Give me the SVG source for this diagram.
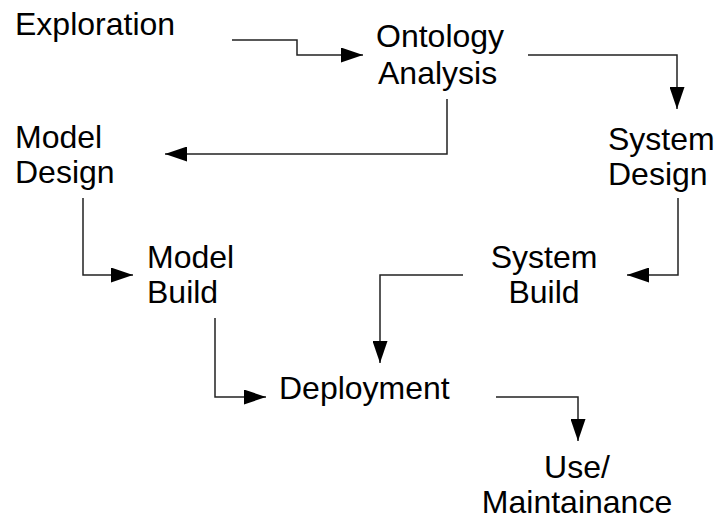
<svg xmlns="http://www.w3.org/2000/svg" width="719" height="519" viewBox="0 0 719 519">
<style>
text{font-family:"Liberation Sans",Arial,Helvetica,sans-serif;font-size:32px;fill:#000}
.c{text-anchor:middle}
.ln{fill:none;stroke:#222;stroke-width:1.5;marker-end:url(#ah)}
</style>
<defs>
<marker id="ah" viewBox="0 0 22 15" refX="22" refY="7.5" markerWidth="22" markerHeight="15" markerUnits="userSpaceOnUse" orient="auto">
<path d="M0,0 L22,7.5 L0,15 z" fill="#000"/>
</marker>
</defs>
<rect width="719" height="519" fill="#fff"/>
<g id="connectors">
<path class="ln" d="M232,40 H297 V55 H363"/>
<path class="ln" d="M528,55 H677 V109"/>
<path class="ln" d="M447,99 V154 H165"/>
<path class="ln" d="M83,198 V275 H133"/>
<path class="ln" d="M215,318 V397 H266"/>
<path class="ln" d="M678,198 V275 H627"/>
<path class="ln" d="M463,275 H380 V363"/>
<path class="ln" d="M496,397 H578 V441"/>
</g>
<g id="exploration"><text x="15" y="35">Exploration</text></g>
<g id="ontology-analysis"><text x="376" y="47">Ontology</text><text x="378" y="84">Analysis</text></g>
<g id="model-design"><text x="15" y="148">Model</text><text x="15" y="183">Design</text></g>
<g id="system-design"><text x="608" y="150">System</text><text x="608" y="185">Design</text></g>
<g id="model-build"><text x="147" y="268">Model</text><text x="147" y="303">Build</text></g>
<g id="system-build"><text class="c" x="544" y="268">System</text><text class="c" x="544" y="303">Build</text></g>
<g id="deployment"><text x="279" y="399">Deployment</text></g>
<g id="use-maintainance"><text class="c" x="577" y="478">Use/</text><text class="c" x="577" y="513">Maintainance</text></g>
</svg>
